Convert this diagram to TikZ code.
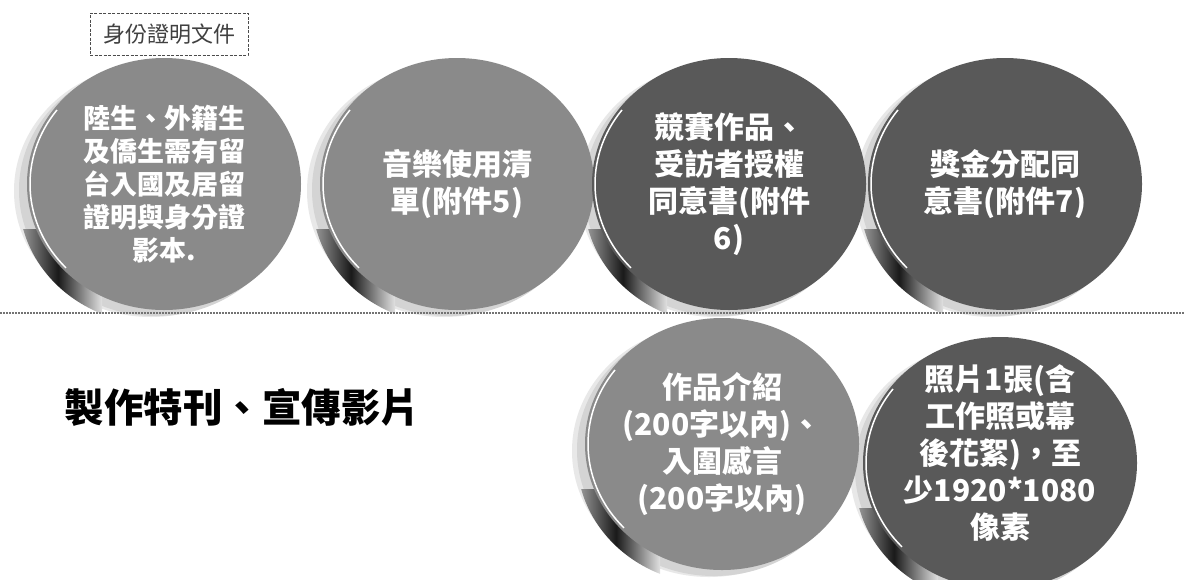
\documentclass[tikz,border=0pt]{standalone}
\usepackage{fontspec}
\newfontfamily\cjk{Noto Sans CJK TC}
\usetikzlibrary{shapes.geometric,calc}
\tikzset{
  bub/.style={ellipse, minimum width=274pt, minimum height=252pt, inner sep=0pt, draw=none},
  lightbub/.style={bub, fill=black!46},
  darkbub/.style={bub, fill=black!65},
  btext/.style={text=white, align=center, font=\cjk\bfseries\fontsize{30}{37}\selectfont},
  smalltext/.style={text=white, align=center, font=\cjk\bfseries\fontsize{27}{33}\selectfont},
  rim/.style={white, line width=1.5pt},
}
\newcommand\rimarc[1]{\draw[rim] (#1.center) ++(137:134 and 123) arc[start angle=137, end angle=217, x radius=134, y radius=123];}
\begin{document}
\begin{tikzpicture}[x=1pt,y=-1pt]
\useasboundingbox (0,0) rectangle (1185,579);
\fill[white] (0,0) rectangle (1185,579);
% shadows
\foreach \cx/\cy in {164/184, 457/184, 729/184, 1005/184, 722/444, 1000/463} {
  \fill[black!9] (\cx-13,\cy+7) ellipse [x radius=137, y radius=126];
  \fill[black!17] (\cx-8,\cy+6) ellipse [x radius=137, y radius=126];
  \begin{scope}
    \clip (\cx-8,\cy+14) ellipse [x radius=137, y radius=126];
    \shade[left color=black!30, right color=black!12, middle color=black!90]
      (\cx-150,\cy+45) rectangle (\cx-62,\cy+150);
  \end{scope}
}
% separator
\coordinate (sepL) at (0,313);
\coordinate (sepR) at (1185,313);
\draw[black!55, line width=1.3pt, dash pattern=on 1.5pt off 1.5pt] (sepL) -- (sepR);
% bubbles
\node[lightbub] (b1) at (164,184) {};
\node[lightbub] (b2) at (457,184) {};
\node[darkbub]  (b3) at (729,184) {};
\node[darkbub]  (b4) at (1005,184) {};
\node[lightbub] (b5) at (722,444) {};
\node[darkbub]  (b6) at (1000,463) {};
\rimarc{b1}\rimarc{b2}\rimarc{b3}\rimarc{b4}\rimarc{b5}\rimarc{b6}
% texts
\node[smalltext] (t1) at (b1.center) {陸生、外籍生\\及僑生需有留\\台入國及居留\\證明與身分證\\影本.};
\node[btext] (t2) at (b2.center) {音樂使用清\\單(附件5)};
\node[btext] (t3) at (b3.center) {競賽作品、\\受訪者授權\\同意書(附件\\6)};
\node[btext] (t4) at (b4.center) {獎金分配同\\意書(附件7)};
\node[btext] (t5) at (b5.center) {作品介紹\\(200字以內)、\\入圍感言\\(200字以內)};
\node[btext] (t6) at ([yshift=10pt]b6.center) {照片1張(含\\工作照或幕\\後花絮)，至\\少1920*1080\\像素};
% label box
\node[draw=black!70, line width=1pt, dash pattern=on 3pt off 1.5pt, text=black!75,
      font=\cjk\fontsize{22}{22}\selectfont, minimum width=158pt, minimum height=42pt, inner sep=2pt] (lbl) at (169,34) {身份證明文件};
% heading
\node[anchor=west, font=\cjk\bfseries\fontsize{39.5}{40}\selectfont, text=black] (head) at (61,407) {製作特刊、宣傳影片};
\end{tikzpicture}
\end{document}
